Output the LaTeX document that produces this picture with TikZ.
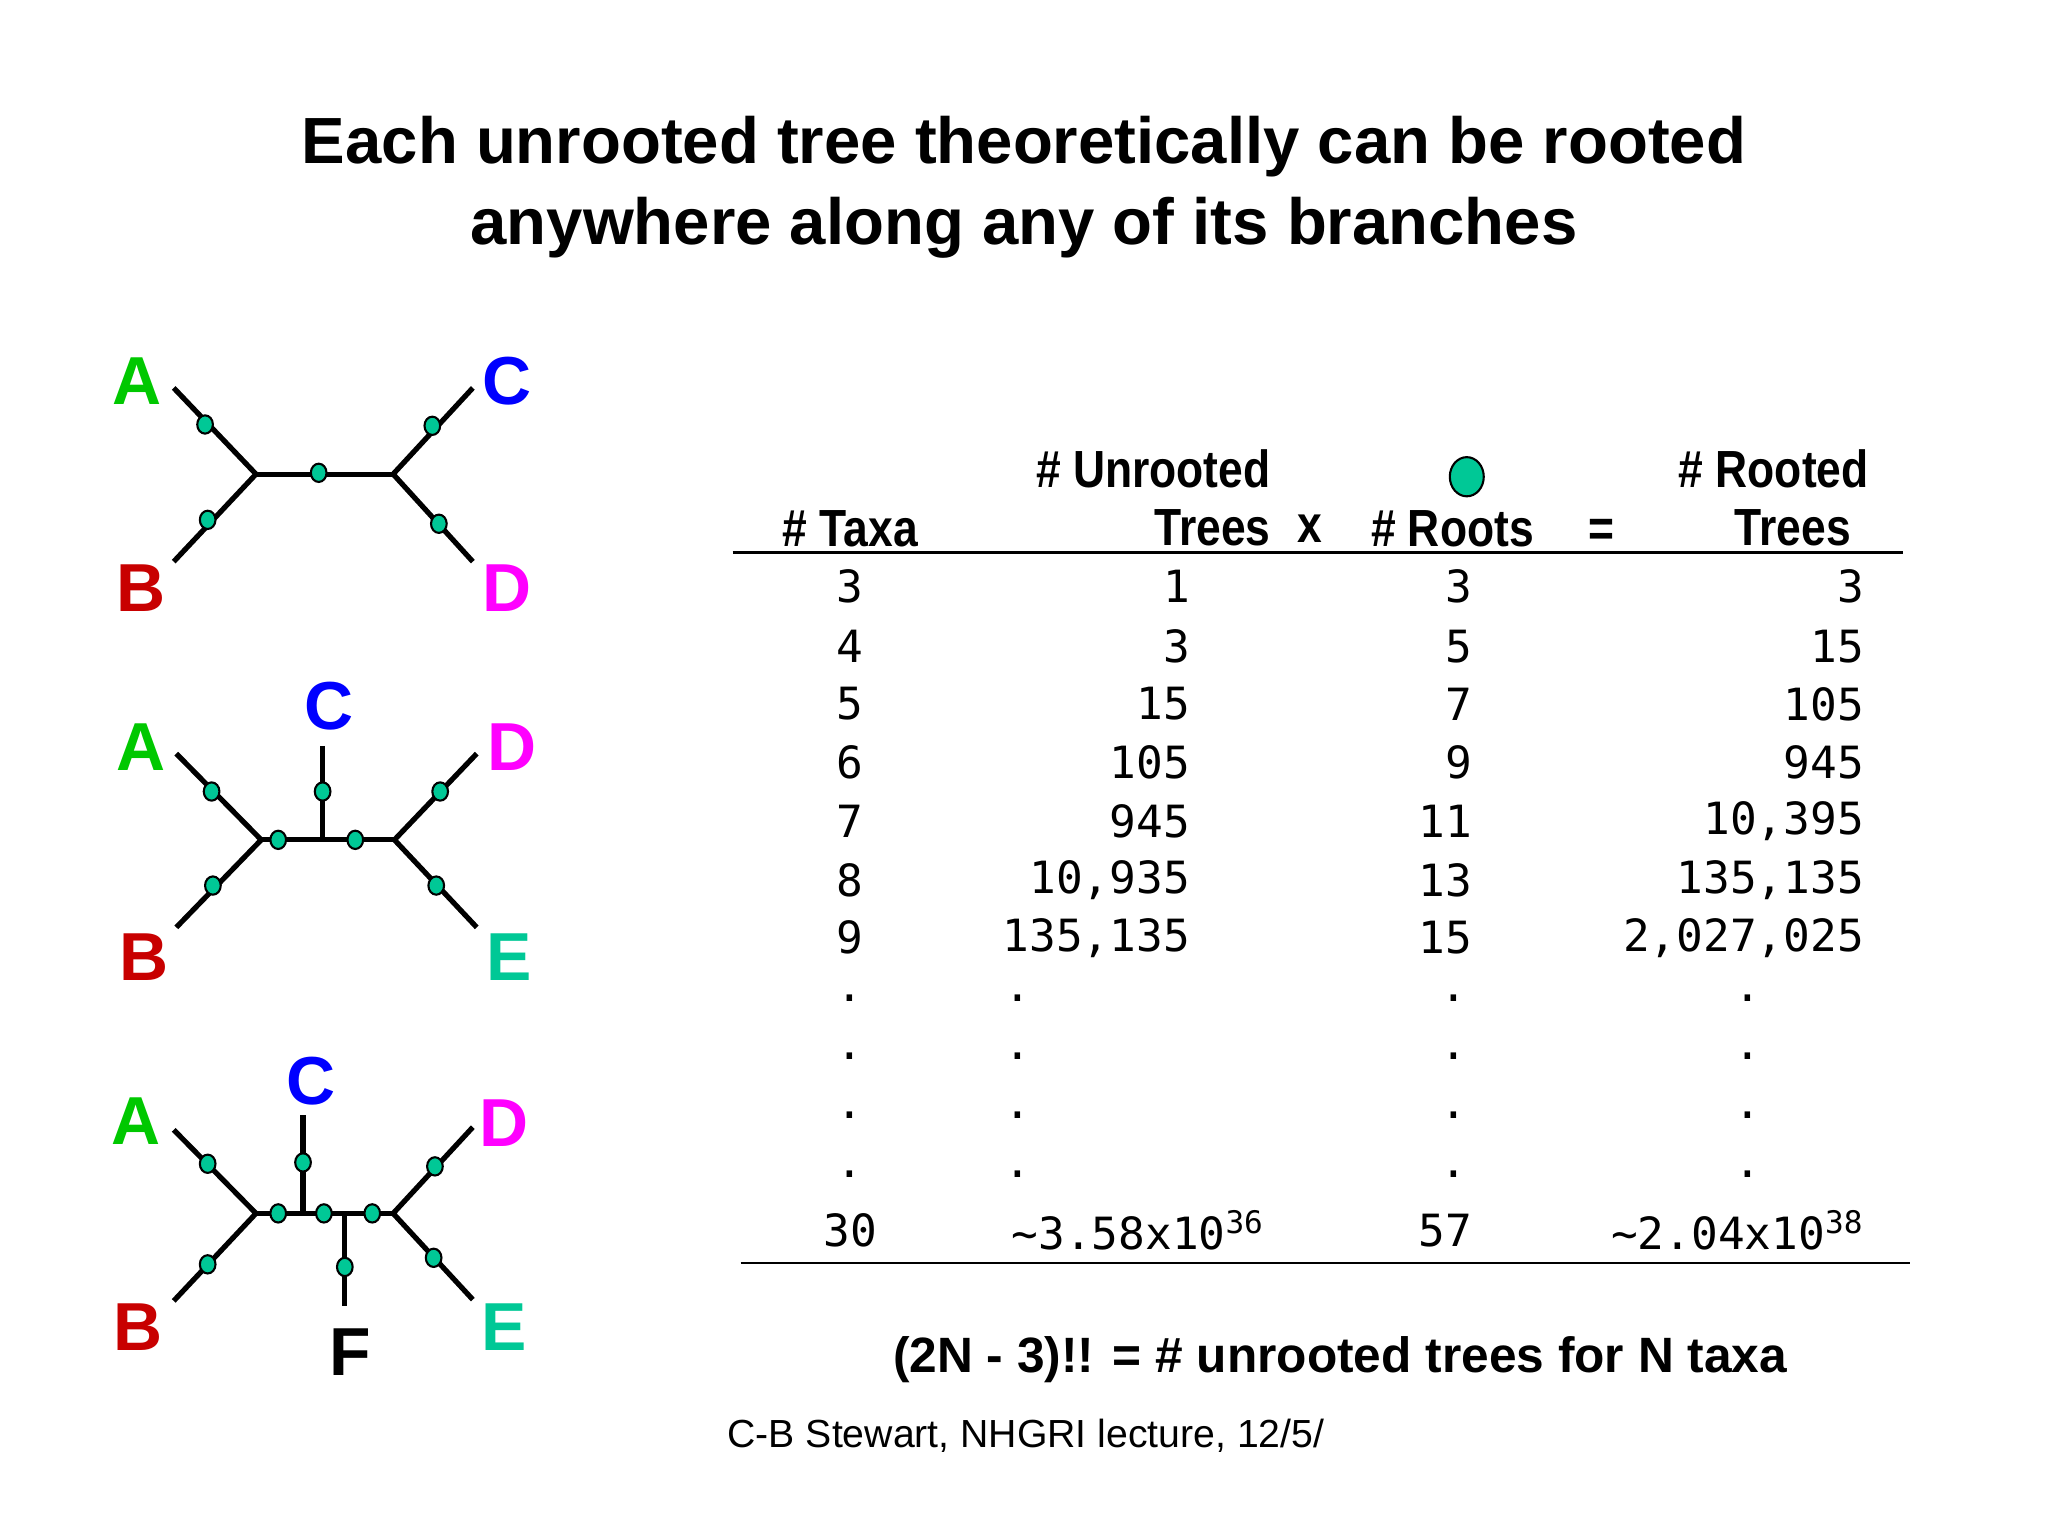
\documentclass[tikz,border=0pt]{standalone}
\usepackage{fontspec}
\usetikzlibrary{shapes.geometric}
\setmainfont{Liberation Sans}
\newfontfamily\monof{DejaVu Sans Mono}
\begin{document}
\begin{tikzpicture}[x=0.5pt,y=-0.5pt,
  br/.style={line width=2pt,black},
  rt/.style={ellipse,draw=black,line width=0.8pt,fill=tealc,minimum width=6pt,minimum height=7pt,inner sep=0pt},
  lab/.style={font=\fontsize{26}{30}\selectfont\bfseries},
  hd/.style={font=\fontsize{20}{22}\selectfont\bfseries,xscale=0.85},
  num/.style={font=\monof\fontsize{17}{19}\selectfont,anchor=east},
  numc/.style={font=\monof\fontsize{17}{19}\selectfont}]
\definecolor{tealc}{RGB}{0,200,150}
\definecolor{gr}{RGB}{0,200,0}
\definecolor{rd}{RGB}{200,0,0}
\definecolor{bl}{RGB}{0,0,255}
\definecolor{mg}{RGB}{255,0,255}
\useasboundingbox (0,0) rectangle (1568,1176);
\fill[white] (0,0) rectangle (1568,1176);
\node[align=center,font=\fontsize{25}{31}\selectfont\bfseries] (title) at (784,143) {Each unrooted tree theoretically can be rooted\\anywhere along any of its branches};
% tree 1
\coordinate (j1) at (196,363); \coordinate (j2) at (301,363);
\draw[br] (133,297) coordinate (a1) -- (j1) -- (133,430) coordinate (b1);
\draw[br] (j1) -- (j2);
\draw[br] (362,297) coordinate (c1) -- (j2) -- (362,430) coordinate (d1);
\foreach \p in {(157,325),(159,398),(244,362),(331,326),(336,401)} \node[rt] at \p {};
\node[lab,gr] (A1) at (105,292) {A}; \node[lab,bl] (C1) at (388,292) {C};
\node[lab,rd] (B1) at (108,450) {B}; \node[lab,mg] (D1) at (388,450) {D};
% tree 2
\coordinate (k1) at (200,643); \coordinate (k2) at (302,643);
\draw[br] (135,577) -- (k1) -- (135,710);
\draw[br] (k1) -- (k2);
\draw[br] (247,571) -- (247,643);
\draw[br] (365,577) -- (k2) -- (365,710);
\foreach \p in {(162,606),(163,678),(213,643),(247,606),(272,643),(337,606),(334,678)} \node[rt] at \p {};
\node[lab,gr] (A2) at (108,572) {A}; \node[lab,bl] (C2) at (252,541) {C};
\node[lab,mg] (D2) at (392,572) {D}; \node[lab,rd] (B2) at (110,733) {B};
\node[lab,tealc] (E2) at (390,733) {E};
% tree 3
\coordinate (m1) at (196,929); \coordinate (m2) at (301,929);
\draw[br] (133,865) -- (m1) -- (133,996);
\draw[br] (m1) -- (m2);
\draw[br] (232,854) -- (232,929);
\draw[br] (264,929) -- (264,1000);
\draw[br] (362,863) -- (m2) -- (362,995);
\foreach \p in {(159,891),(159,968),(213,929),(232,890),(248,929),(285,929),(264,970),(333,893),(332,963)} \node[rt] at \p {};
\node[lab,gr] (A3) at (104,858) {A}; \node[lab,bl] (C3) at (238,828) {C};
\node[lab,mg] (D3) at (386,860) {D}; \node[lab,rd] (B3) at (106,1016) {B};
\node[lab] (F3) at (268,1035) {F}; \node[lab,tealc] (E3) at (386,1016) {E};
% table headers
\node[hd] (h1) at (651,405) {\# Taxa};
\node[hd,align=right] (h2) at (883,381) {\# Unrooted\\\hspace*{2em}Trees};
\node[hd] (hx) at (1003,405) {x};
\node[hd] (h3) at (1112,405) {\# Roots};
\node[ellipse,draw=black,line width=0.8pt,fill=tealc,minimum width=13pt,minimum height=15pt,inner sep=0pt] (rootdot) at (1123,365) {};
\node[hd] (heq) at (1226,408) {=};
\node[hd,align=right] (h4) at (1358,381) {\# Rooted\\Trees\hspace*{0.4em}};
\draw[line width=1pt] (561,423) -- (1457,423);
\draw[line width=1pt] (567,967) -- (1462,967);
\foreach \y/\a/\b/\c/\d in {449/3/1/3/3,495/4/3/5/15,539/5/15/7/105,584/6/105/9/945,629/7/945/11/{10,395},674/8/{10,935}/13/{135,135},718/9/{135,135}/15/{2,027,025}}{
  \node[numc] at (651,\y) {\a};
  \node[num] at (918,\y) {\b};
  \node[num] at (1134,\y) {\c};
  \node[num] at (1434,\y) {\d};
}
\foreach \y in {770,815,860,905}{
  \foreach \x in {651,779,1113,1338} \node[numc] at (\x,\y-6) {.};
}
\node[numc] at (651,942) {30};
\node[num] at (975,942) {\textasciitilde3.58x10\textsuperscript{36}};
\node[num] at (1134,942) {57};
\node[num] at (1434,942) {\textasciitilde2.04x10\textsuperscript{38}};
\node[font=\fontsize{19}{22}\selectfont\bfseries] (formula) at (1026,1041) {(2N - 3)!! = \# unrooted trees for N taxa};
\node[anchor=west,font=\fontsize{15}{18}\selectfont] (cite) at (550,1099) {C-B Stewart, NHGRI lecture, 12/5/};
\end{tikzpicture}
\end{document}
